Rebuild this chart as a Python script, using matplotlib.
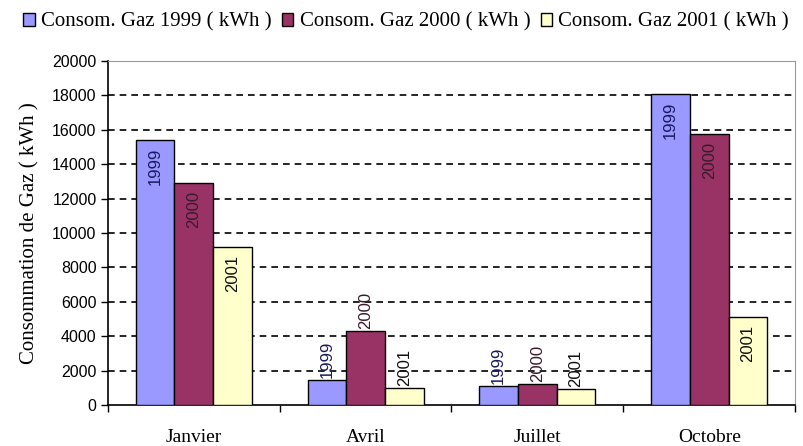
import matplotlib.pyplot as plt
import numpy as np

# Données
mois = ["Janvier", "Avril", "Juillet", "Octobre"]
annees = ["1999", "2000", "2001"]
gaz_1999 = [15400, 1450, 1100, 18100]
gaz_2000 = [12900, 4300, 1200, 15750]
gaz_2001 = [9200, 1000, 900, 5100]

couleurs = ["#9999FF", "#993366", "#FFFFCC"]
couleurs_txt = ["#1a1a60", "#3a1a2a", "#111111"]

fig = plt.figure(figsize=(8.04, 4.46), dpi=100)
ax = fig.add_axes([0.134, 0.092, 0.855, 0.771])

x = np.arange(len(mois))
w = 0.225
series = [gaz_1999, gaz_2000, gaz_2001]
for i, vals in enumerate(series):
    pos = x + (i - 1) * w
    ax.bar(pos, vals, width=w, color=couleurs[i], edgecolor="black", linewidth=1,
           label=f"Consom. Gaz {annees[i]} ( kWh )", zorder=3)
    for px, v in zip(pos, vals):
        if v >= 5000:
            # étiquette à l'intérieur, en haut de la barre
            ax.text(px, v - 450, annees[i], rotation=90, ha="center", va="top",
                    fontsize=12, family="Liberation Sans", color=couleurs_txt[i], zorder=4)
        else:
            ax.text(px, v + 1200, annees[i], rotation=90, ha="center", va="center",
                    fontsize=12, family="Liberation Sans", color=couleurs_txt[i], zorder=4)

ax.set_xlim(-0.5, 3.5)
ax.set_ylim(0, 20000)
ax.set_yticks(range(0, 20001, 2000))
for t in ax.get_yticklabels():
    t.set_family("Liberation Sans")
    t.set_fontsize(11.5)
ax.tick_params(axis="y", direction="out", length=5, width=1, pad=3)

ax.set_xticks(x)
ax.set_xticklabels(mois, family="Liberation Serif", fontsize=14)
ax.tick_params(axis="x", which="major", length=0, pad=17)
ax.set_xticks([-0.5, 0.5, 1.5, 2.5, 3.5], minor=True)
ax.tick_params(axis="x", which="minor", direction="out", length=5, width=1)

for yv in range(2000, 20000, 2000):
    ax.axhline(yv, color="black", linestyle=(0, (4, 3)), linewidth=1.2, zorder=1)

ax.spines["top"].set_color("#999999")
ax.spines["right"].set_color("#999999")
ax.spines["left"].set_linewidth(1.2)
ax.spines["bottom"].set_linewidth(1.2)

ax.set_ylabel("Consommation de Gaz ( kWh )", family="Liberation Serif", fontsize=15, labelpad=9)

fig.legend(loc="upper center", bbox_to_anchor=(0.505, 1.0), ncol=3, frameon=False,
           prop={"family": "Liberation Serif", "size": 15}, handlelength=0.55,
           handleheight=0.55, handletextpad=0.3, columnspacing=0.5, borderaxespad=0.2)

fig.savefig("out.png", dpi=100)
